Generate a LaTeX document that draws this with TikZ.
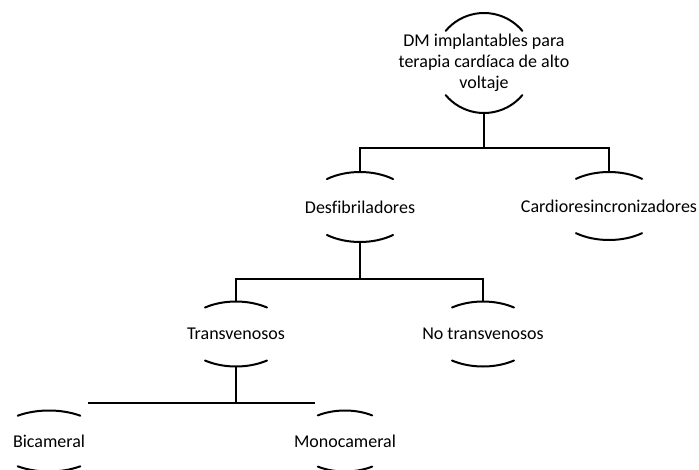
\documentclass[tikz,border=0pt]{standalone}
\usepackage{fontspec}
\setmainfont[Ligatures=NoCommon]{Carlito}
\usetikzlibrary{calc}
\newcommand\ovalarcs[4]{%
  \draw[arcline] ($(#1)+({#2*cos(#4)*1pt},{#3*sin(#4)*1pt})$) arc[start angle=#4,end angle=180-#4,x radius=#2pt,y radius=#3pt];
  \draw[arcline] ($(#1)+({#2*cos(#4)*1pt},{-#3*sin(#4)*1pt})$) arc[start angle=-#4,end angle=-180+#4,x radius=#2pt,y radius=#3pt];
  \coordinate (#1T) at ($(#1)+(0pt,#3pt)$);
  \coordinate (#1B) at ($(#1)+(0pt,-#3pt)$);
}
\begin{document}
\begin{tikzpicture}[x=1pt,y=-1pt,
  lbl/.style={inner sep=0pt,align=center,font=\fontsize{18}{21}\selectfont},
  arcline/.style={line width=2pt,line cap=round},
  conn/.style={line width=2.6pt}]
\path[use as bounding box] (0,0) rectangle (699,469);
\clip (0,0) rectangle (699,469);
% nodes
\node[lbl] (root) at (484,63) {DM implantables para\\terapia cardíaca de alto\\voltaje};
\node[lbl] (desf) at (360,207) {Desfibriladores};
\node[lbl] (card) at (609,206) {Cardioresincronizadores};
\node[lbl] (trans) at (236,334) {Transvenosos};
\node[lbl] (notr) at (483,334) {No transvenosos};
\node[lbl] (bica) at (49,441) {Bicameral};
\node[lbl] (mono) at (345,441) {Monocameral};
% arcs
\ovalarcs{root}{50}{50}{40}
\ovalarcs{desf}{55}{35}{53}
\ovalarcs{card}{55}{34}{53}
\ovalarcs{trans}{53.5}{32.5}{54.6}
\ovalarcs{notr}{53.5}{32.5}{54.6}
\ovalarcs{bica}{56}{30.5}{56}
\ovalarcs{mono}{50}{30.5}{57}
% connectors
\draw[conn] (rootB) -- ++(0,35) coordinate (j1);
\draw[conn] (desfT) |- (j1) -| (cardT);
\draw[conn] (desfB) -- ++(0,37) coordinate (j2);
\draw[conn] (transT) |- (j2) -| (notrT);
\coordinate (bL) at (88,403);
\coordinate (bR) at (315,403);
\draw[conn] (transB) -- (transB |- bL);
\draw[conn] (bL) -- (bR);
\end{tikzpicture}
\end{document}
